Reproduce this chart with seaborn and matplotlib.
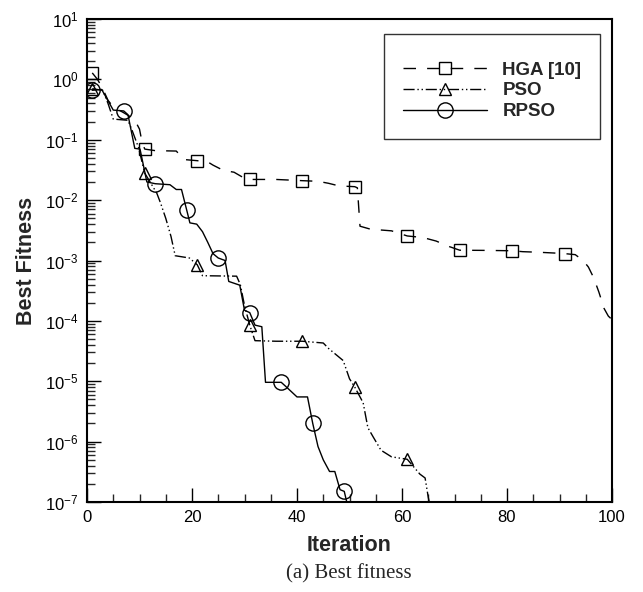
import numpy as np
import pandas as pd
import matplotlib
matplotlib.use("Agg")
import matplotlib.pyplot as plt
import seaborn as sns
from matplotlib.ticker import LogLocator, LogFormatterSciNotation, MultipleLocator, NullFormatter

# ---------------- data ----------------
hga_iter = [1, 2, 3, 4, 5, 7, 9, 10, 10.5, 11, 13, 17, 18.5, 21, 23, 24, 26, 28, 30, 31, 36, 41,
            44, 46, 48, 51, 51.5, 52, 54, 58, 61, 64, 66.5, 69, 71, 76, 81, 83, 86, 89, 91,
            93, 94.5, 95.5, 96.5, 97.5, 98.5, 99.3, 100]
hga_val = [1.28, 1.0, 0.7, 0.45, 0.35, 0.28, 0.22, 0.15, 0.09, 0.07, 0.066, 0.065, 0.047, 0.045,
           0.043, 0.038, 0.031, 0.029, 0.023, 0.022, 0.022, 0.021, 0.0205, 0.019, 0.0172, 0.0167,
           0.016, 0.0037, 0.0033, 0.0031, 0.00255, 0.0024, 0.0021, 0.0017, 0.00148, 0.00147,
           0.00145, 0.0014, 0.00137, 0.00133, 0.0013, 0.00125, 0.001, 7.8e-4, 5.2e-4, 3.0e-4,
           1.6e-4, 1.2e-4, 1.05e-4]
hga_marks = [1, 11, 21, 31, 41, 51, 61, 71, 81, 91]

pso_iter = [1, 3, 4, 5, 7.8, 8.5, 9.8, 11, 13.3, 14, 15, 16, 16.8, 19.5, 21, 22, 28.5, 29.2, 30,
            31, 32, 36, 41, 45, 46, 48.8, 50, 51, 52.6, 53.5, 54.5, 56, 58, 61, 63.4, 64.4, 65,
            65.3]
pso_val = [0.7, 0.66, 0.4, 0.22, 0.21, 0.15, 0.075, 0.028, 0.013, 0.009, 0.005, 0.0025, 0.0012,
           0.0011, 0.00085, 0.00056, 0.00055, 0.0004, 0.00018, 8.5e-5, 4.7e-5, 4.6e-5, 4.6e-5,
           4.3e-5, 3.5e-5, 2.2e-5, 1.1e-5, 8e-6, 4.4e-6, 1.7e-6, 1.2e-6, 7.2e-7, 5.6e-7, 5.1e-7,
           2.9e-7, 2.5e-7, 1.2e-7, 9e-8]
pso_marks = [1, 11, 21, 31, 41, 51, 61]

rpso_iter = [1, 2.8, 5, 7, 7.8, 9.1, 10.1, 11.4, 13, 15.8, 17, 18, 19, 19.6, 20.9, 22, 23, 24,
             25, 26.3, 27, 29.1, 30, 31, 32, 33.3, 34, 37, 38, 40, 42, 43, 44, 45, 46.2, 47.2,
             48.2, 49, 49.6]
rpso_val = [0.66, 0.68, 0.31, 0.3, 0.26, 0.072, 0.07, 0.02, 0.0187, 0.018, 0.015, 0.015, 0.0068,
            0.0042, 0.004, 0.003, 0.002, 0.0013, 0.0011, 0.001, 4.5e-4, 3.9e-4, 1.5e-4, 1.37e-4,
            8.5e-5, 8e-5, 9.6e-6, 9.6e-6, 8e-6, 5.5e-6, 5.5e-6, 2e-6, 8.3e-7, 5e-7, 3.2e-7,
            3.2e-7, 1.6e-7, 1.5e-7, 9e-8]
rpso_marks = [1, 7, 13, 19, 25, 31, 37, 43, 49]

labels = ["HGA [10]", "PSO", "RPSO"]
x_ticks = [0, 20, 40, 60, 80, 100]

# ---------------- style ----------------
sns.set_theme(style="white")
plt.rcParams["font.family"] = ["Liberation Sans", "DejaVu Sans"]
plt.rcParams["mathtext.fontset"] = "custom"
plt.rcParams["mathtext.rm"] = "Liberation Sans"
plt.rcParams["mathtext.it"] = "Liberation Sans:italic"
plt.rcParams["mathtext.bf"] = "Liberation Sans:bold"

fig = plt.figure(figsize=(6.43, 5.92), dpi=100)
ax = fig.add_axes([87 / 643, 1 - 502 / 592, 525 / 643, 483 / 592])


def idx(xs, marks):
    return [i for i, v in enumerate(xs) if v in marks]


series = [
    (hga_iter, hga_val, hga_marks, "s", 8, (0, (9, 8))),
    (pso_iter, pso_val, pso_marks, "^", 9, (0, (8, 2, 1, 2, 1, 2))),
    (rpso_iter, rpso_val, rpso_marks, "o", 11, "-"),
]
for (xs, ys, mk, m, ms, ls), lab in zip(series, labels):
    df = pd.DataFrame({"Iteration": xs, "Best Fitness": ys})
    sns.lineplot(data=df, x="Iteration", y="Best Fitness", ax=ax, sort=False,
                 estimator=None, color="black", linewidth=1.0, linestyle=ls,
                 marker=m, markersize=ms, markerfacecolor="none",
                 markeredgecolor="black", markeredgewidth=1.0,
                 markevery=idx(xs, mk), label=lab)

ax.set_yscale("log")
ax.set_xlim(0, 100)
ax.set_ylim(1e-7, 10)
ax.set_xticks(x_ticks)
ax.xaxis.set_minor_locator(MultipleLocator(5))
ax.yaxis.set_major_locator(LogLocator(base=10, numticks=20))
ax.yaxis.set_minor_locator(LogLocator(base=10, subs=np.arange(2, 10), numticks=20))
ax.yaxis.set_major_formatter(LogFormatterSciNotation())
ax.yaxis.set_minor_formatter(NullFormatter())

ax.tick_params(axis="both", which="major", direction="in", length=10, width=1.0,
               labelsize=12, colors="black", pad=6)
ax.tick_params(axis="both", which="minor", direction="in", length=6, width=1.0)
ax.tick_params(bottom=True, left=True, top=False, right=False)
ax.tick_params(axis="x", which="minor", bottom=True)
ax.tick_params(axis="y", which="minor", left=True)

for s in ax.spines.values():
    s.set_visible(True)
    s.set_color("black")
    s.set_linewidth(1.5)

ax.grid(False)
ax.set_xlabel("Iteration", fontsize=15.5, fontweight="bold", labelpad=7)
ax.set_ylabel("Best Fitness", fontsize=15.5, fontweight="bold", labelpad=6)

leg = ax.legend(loc="upper right", bbox_to_anchor=(0.9775, 0.969), borderaxespad=0,
                handlelength=4.5, fontsize=13.5, frameon=True, fancybox=False,
                labelspacing=0.2, borderpad=1.0, handletextpad=0.8,
                title=" ", title_fontsize=4.5)
leg.get_frame().set_edgecolor("black")
leg.get_frame().set_linewidth(1.0)
for t in leg.get_texts():
    t.set_fontweight("bold")

fig.text(349 / 643, 1 - 574 / 592, "(a) Best fitness", ha="center", va="center",
         fontsize=15, family=["Liberation Serif", "DejaVu Serif"])

fig.savefig("out.png", dpi=100)
